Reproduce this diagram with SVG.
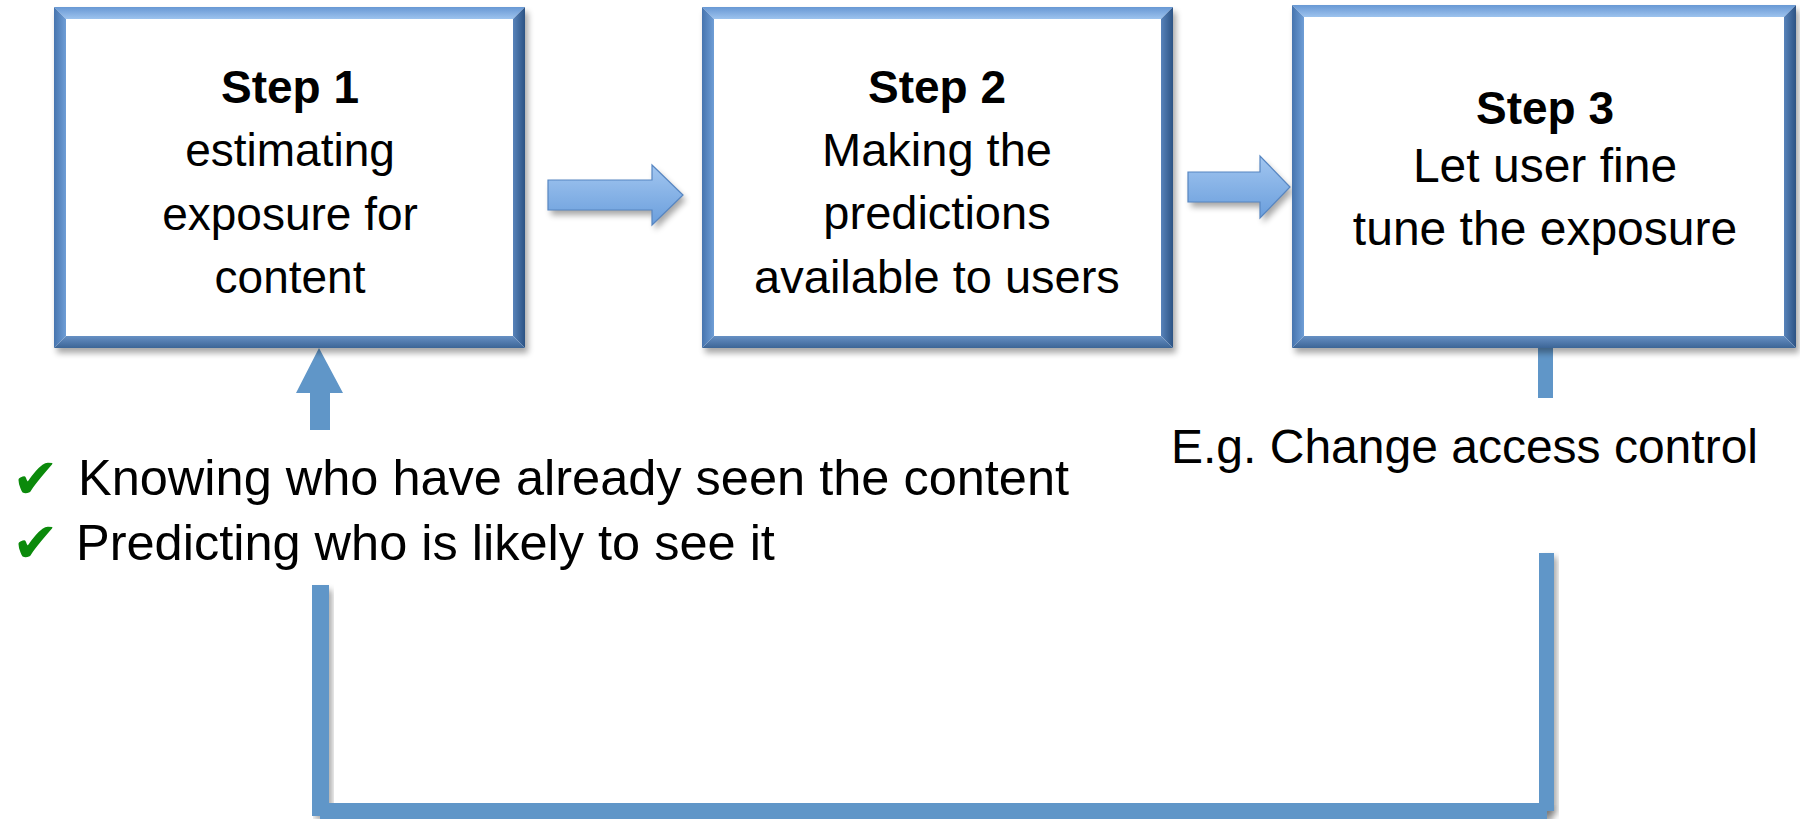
<svg xmlns="http://www.w3.org/2000/svg" width="1800" height="819" viewBox="0 0 1800 819">
<defs>
<linearGradient id="gTop" x1="0" y1="0" x2="0" y2="1"><stop offset="0" stop-color="#6898D4"/><stop offset="1" stop-color="#9DC3EE"/></linearGradient>
<linearGradient id="gLeft" x1="0" y1="0" x2="1" y2="0"><stop offset="0" stop-color="#4674AE"/><stop offset="1" stop-color="#6F9ED6"/></linearGradient>
<linearGradient id="gRight" x1="0" y1="0" x2="1" y2="0"><stop offset="0" stop-color="#5883BA"/><stop offset="1" stop-color="#2C5384"/></linearGradient>
<linearGradient id="gBottom" x1="0" y1="0" x2="0" y2="1"><stop offset="0" stop-color="#6690C4"/><stop offset="1" stop-color="#3C6596"/></linearGradient>
<linearGradient id="gArrow" x1="0" y1="0" x2="0" y2="1"><stop offset="0" stop-color="#A2C6F0"/><stop offset="1" stop-color="#6A9EDC"/></linearGradient>
<filter id="shadow" x="-10%" y="-10%" width="120%" height="130%"><feGaussianBlur stdDeviation="3"/></filter>
<style>
.sh{fill:#000;opacity:0.35;filter:url(#shadow)}
.in{fill:#fff}
.t{font-family:"Liberation Sans",Arial,sans-serif;fill:#000}
.b{font-weight:bold}
.line{fill:#6096C8}
.arr{fill:url(#gArrow);stroke:#5786C2;stroke-width:1.2}
.chk{font-family:"DejaVu Sans",sans-serif;fill:#0B8A0B;font-size:56px}
</style>
</defs>
<rect width="1800" height="819" fill="#fff"/>

<g id="connectors">
  <polygon class="sh" points="551,185 655,185 655,170 686,200 655,230 655,215 551,215"/>
  <polygon class="arr" points="548,180 652,180 652,165 683,195 652,225 652,210 548,210"/>
  <polygon class="sh" points="1191,177 1263,177 1263,161 1293,192 1263,223 1263,207 1191,207"/>
  <polygon class="arr" points="1188,172 1260,172 1260,156 1290,187 1260,218 1260,202 1188,202"/>
  <rect class="sh" x="315" y="590" width="17" height="230"/>
  <rect class="sh" x="330" y="807" width="1222" height="16"/>
  <rect class="sh" x="1542" y="557" width="15" height="258"/>
  <polygon class="line" points="319,348 343,393 330,393 330,430 310,430 310,393 296,393"/>
  <rect class="line" x="312" y="585" width="17" height="231"/>
  <rect class="line" x="320" y="803" width="1227" height="16"/>
  <rect class="line" x="1538" y="340" width="15" height="58"/>
  <rect class="line" x="1539" y="553" width="15" height="258"/>
</g>

<g id="step1">
  <rect class="sh" x="57" y="12" width="471" height="341"/>
  <rect class="in" x="54" y="7" width="471" height="341"/>
  <polygon fill="url(#gTop)" points="54,7 525,7 513,19 66,19"/>
  <polygon fill="url(#gLeft)" points="54,7 66,19 66,336 54,348"/>
  <polygon fill="url(#gRight)" points="525,7 525,348 513,336 513,19"/>
  <polygon fill="url(#gBottom)" points="54,348 525,348 513,336 66,336"/>
  <text class="t" text-anchor="middle" font-size="46"><tspan class="b" x="290" y="103">Step 1</tspan><tspan x="290" y="166">estimating</tspan><tspan x="290" y="230">exposure for</tspan><tspan x="290" y="293">content</tspan></text>
</g>

<g id="step2">
  <rect class="sh" x="705" y="12" width="471" height="341"/>
  <rect class="in" x="702" y="7" width="471" height="341"/>
  <polygon fill="url(#gTop)" points="702,7 1173,7 1161,19 714,19"/>
  <polygon fill="url(#gLeft)" points="702,7 714,19 714,336 702,348"/>
  <polygon fill="url(#gRight)" points="1173,7 1173,348 1161,336 1161,19"/>
  <polygon fill="url(#gBottom)" points="702,348 1173,348 1161,336 714,336"/>
  <text class="t" text-anchor="middle" font-size="47"><tspan class="b" x="937" y="103" font-size="46">Step 2</tspan><tspan x="937" y="166">Making the</tspan><tspan x="937" y="229">predictions</tspan><tspan x="937" y="293">available to users</tspan></text>
</g>

<g id="step3">
  <rect class="sh" x="1295" y="10" width="504" height="343"/>
  <rect class="in" x="1292" y="5" width="504" height="343"/>
  <polygon fill="url(#gTop)" points="1292,5 1796,5 1784,17 1304,17"/>
  <polygon fill="url(#gLeft)" points="1292,5 1304,17 1304,336 1292,348"/>
  <polygon fill="url(#gRight)" points="1796,5 1796,348 1784,336 1784,17"/>
  <polygon fill="url(#gBottom)" points="1292,348 1796,348 1784,336 1304,336"/>
  <text class="t" text-anchor="middle" font-size="48"><tspan class="b" x="1545" y="124" font-size="46">Step 3</tspan><tspan x="1545" y="182">Let user fine</tspan><tspan x="1545" y="245">tune the exposure</tspan></text>
</g>

<g id="notes-left">
  <text class="chk" x="12" y="498">✔</text>
  <text class="t" x="78" y="495" font-size="50.5">Knowing who have already seen the content</text>
  <text class="chk" x="12" y="562">✔</text>
  <text class="t" x="76" y="560" font-size="50.5">Predicting who is likely to see it</text>
</g>

<g id="notes-right">
  <text class="t" x="1171" y="463" font-size="48">E.g. Change access control</text>
</g>
</svg>
